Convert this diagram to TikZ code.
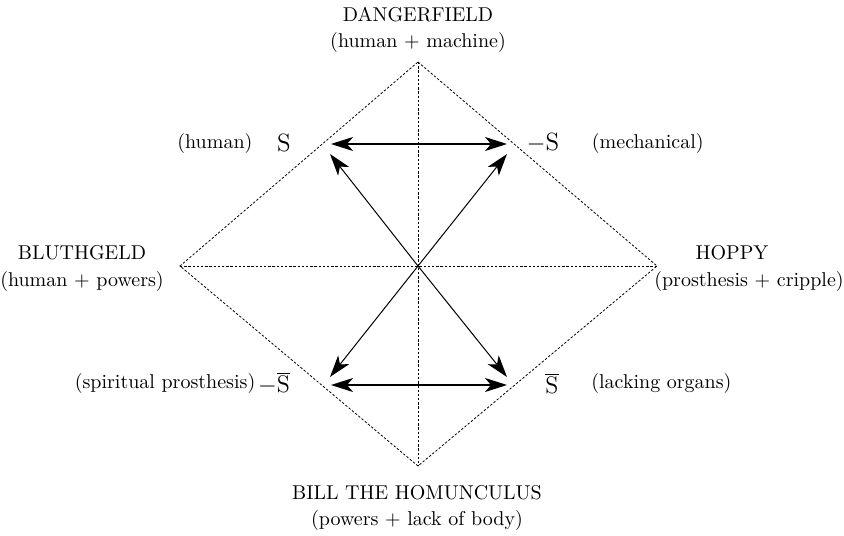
\documentclass[tikz,border=0pt]{standalone}
\usepackage{tikz}
\usetikzlibrary{arrows.meta, positioning}
\tikzstyle{corner} = [inner sep=1pt, font=\normalsize]
\tikzstyle{gloss} = [inner sep=1pt, font=\normalsize]
\tikzstyle{term} = [inner sep=1pt, font=\fontsize{12.5}{14}\selectfont]
\tikzstyle{frame} = [line width=0.4pt, dash pattern=on 1.2pt off 0.9pt]
\tikzstyle{arrow} = [-{Stealth[length=11pt, width=7pt, inset=3pt]}, line width=0.5pt]
\tikzstyle{twoway} = [{Stealth[length=11pt, width=7pt, inset=3pt]}-{Stealth[length=11pt, width=7pt, inset=3pt]}, line width=0.8pt]

\begin{document}
\begin{tikzpicture}[x=0.5pt, y=-0.5pt, node distance=4pt]
    \useasboundingbox (0,0) rectangle (844,535);

        % square corners
        \coordinate (top) at (418,62);
        \coordinate (left) at (180,266);
        \coordinate (right) at (657,266);
        \coordinate (bottom) at (418,466);
        \coordinate (mid) at (418,266);

        % arrow ends
        \coordinate (hNW) at (331,144);
        \coordinate (hNE) at (507,144);
        \coordinate (hSW) at (331,385);
        \coordinate (hSE) at (507,385);
        \coordinate (dNW) at (330,154);
        \coordinate (dNE) at (507,154);
        \coordinate (dSW) at (330,377);
        \coordinate (dSE) at (507,377);

        % corner labels
        \node (dangerfield) [corner] at (418,15) {DANGERFIELD};
        \node (dangerfield_gloss) [gloss] at (418,43) {(human + machine)};
        \node (bluthgeld) [corner] at (82,253) {BLUTHGELD};
        \node (bluthgeld_gloss) [gloss] at (82,281) {(human + powers)};
        \node (hoppy) [corner] at (732,253) {HOPPY};
        \node (hoppy_gloss) [gloss] at (749,281) {(prosthesis + cripple)};
        \node (bill) [corner] at (417,493) {BILL THE HOMUNCULUS};
        \node (bill_gloss) [gloss] at (417,520) {(powers + lack of body)};

        % terms
        \node (s) [term] at (284,143) {S};
        \node (not_s) [term] at (543,143) {$-$S};
        \node (not_sbar) [term] at (274,383) {$-\overline{\mathrm{S}}$};
        \node (sbar) [term] at (552,383) {$\overline{\mathrm{S}}$};
        \node (human) [gloss, left=10pt of s] {(human)};
        \node (mechanical) [gloss, right=14pt of not_s] {(mechanical)};
        \node (spiritual) [gloss, left=-1pt of not_sbar] {(spiritual prosthesis)};
        \node (lacking) [gloss, right=14pt of sbar] {(lacking organs)};

        % dotted square and cross
        \draw [frame] (top) -- (right) -- (bottom) -- (left) -- cycle;
        \draw [frame] (top) -- (bottom);
        \draw [frame] (left) -- (right);

        % arrows
        \draw [twoway] (hNW) -- (hNE);
        \draw [twoway] (hSW) -- (hSE);
        \draw [arrow] (mid) -- (dNW);
        \draw [arrow] (mid) -- (dNE);
        \draw [arrow] (mid) -- (dSW);
        \draw [arrow] (mid) -- (dSE);

    \end{tikzpicture}
\end{document}
